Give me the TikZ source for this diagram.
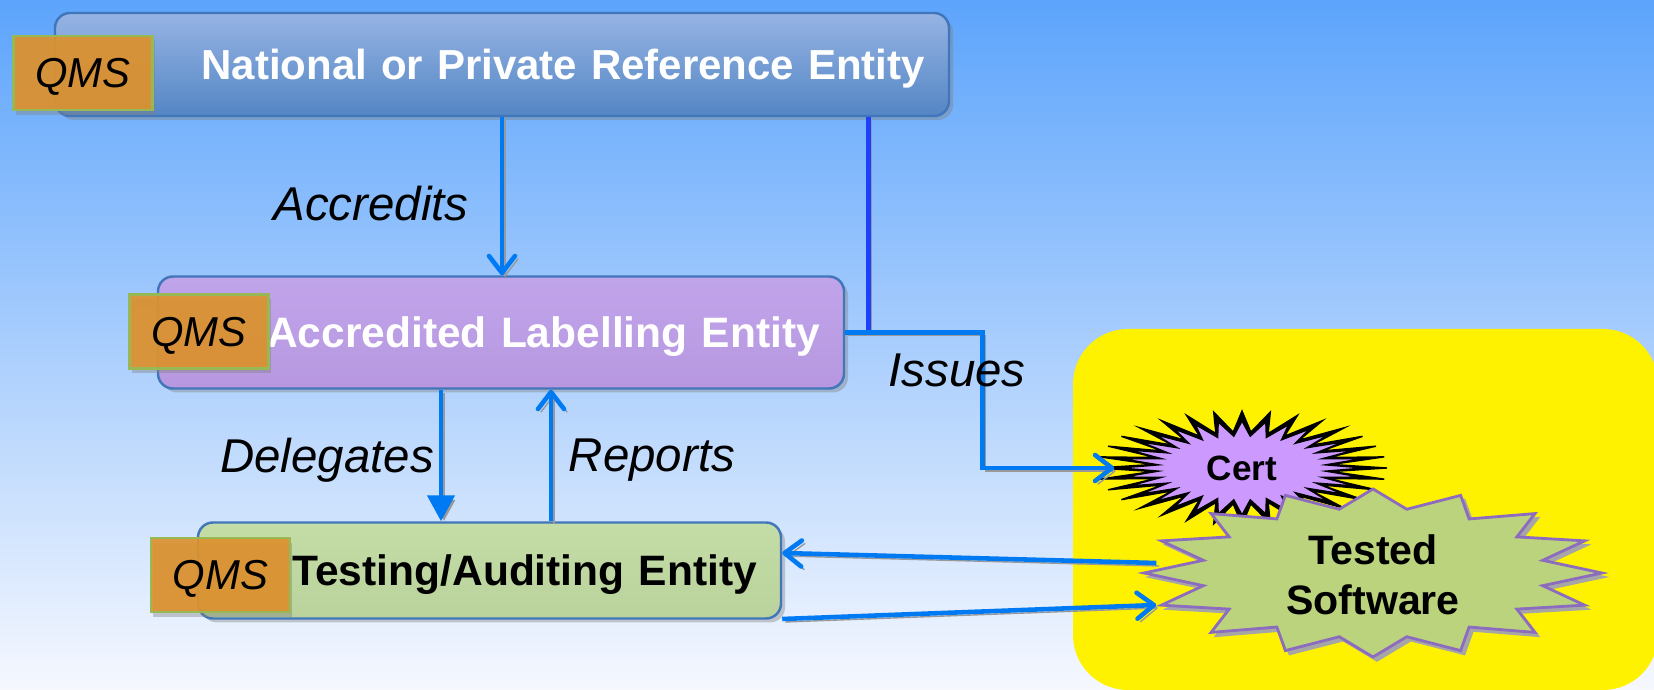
\documentclass[tikz,border=0pt]{standalone}
\usepackage{fontspec}
\setmainfont{Liberation Sans}
\usetikzlibrary{arrows.meta,shadows}
\definecolor{bgtop}{RGB}{92,164,252}
\definecolor{bgbot}{RGB}{246,248,254}
\definecolor{nattop}{RGB}{150,180,228}
\definecolor{natbot}{RGB}{84,134,196}
\definecolor{boxedge}{RGB}{66,118,186}
\definecolor{acctop}{RGB}{192,164,234}
\definecolor{accbot}{RGB}{183,152,224}
\definecolor{testtop}{RGB}{196,220,166}
\definecolor{testbot}{RGB}{186,210,156}
\definecolor{qmsfill}{RGB}{221,146,46}
\definecolor{qmsedge}{RGB}{150,185,85}
\definecolor{certfill}{RGB}{204,153,255}
\definecolor{softfill}{RGB}{188,211,125}
\definecolor{softedge}{RGB}{140,108,190}
\definecolor{flow}{RGB}{0,122,242}
\definecolor{feed}{RGB}{28,64,255}
\def\spiky[#1](#2)(#3:#4:#5:#6:#7){\draw[#1, shift={(#2)}] (0:#4 and #5) \foreach \k [evaluate=\k as \ain using (\k-0.5)*360/#3, evaluate=\k as \aout using \k*360/#3] in {1,...,#3}{ -- (\ain:#6 and #7) -- (\aout:#4 and #5)} -- cycle;}

\begin{document}
\begin{tikzpicture}[
	entity/.style={rounded corners=0.15cm, draw=boxedge, line width=0.7pt, inner xsep=0.24cm, inner ysep=0pt, text depth=0pt, align=right, font=\fontsize{12.1}{14}\selectfont\bfseries, drop shadow={shadow xshift=0.04cm, shadow yshift=-0.04cm, opacity=0.4}},
	qms/.style={fill=qmsfill, fill opacity=0.92, text opacity=1, draw=qmsedge, line width=0.6pt, minimum width=1.39cm, minimum height=0.74cm, inner sep=0pt, text depth=0pt, font=\fontsize{11.9}{14}\selectfont\itshape, drop shadow={shadow xshift=0.02cm, shadow yshift=-0.05cm, opacity=0.4}},
	flowlabel/.style={font=\fontsize{13.5}{16}\selectfont\itshape},
	lshadow/.style={preaction={draw=black!40, transform canvas={xshift=0.3mm, yshift=-0.3mm}}},
	fshadow/.style={preaction={fill=black!35, draw=black!35, transform canvas={xshift=0.4mm, yshift=-0.4mm}}},
	flowline/.style={draw=flow, line width=1.3pt, lshadow},
	chevron/.style={flowline, -{Straight Barb[length=0.17cm, width=0.26cm, line cap=round, line join=round]}},
	wedge/.style={flowline, -{Triangle[length=0.26cm, width=0.27cm]}}
]
	%%%%% BACKGROUND %%%%%
	\useasboundingbox (0,0) rectangle (16.54,6.90);
	\shade[top color=bgtop, bottom color=bgbot] (0,0) rectangle (16.54,6.90);
	\fill[yellow, rounded corners=0.55cm] (10.73,0) rectangle (16.58,3.61);
	
	%%%%% ENTITIES %%%%%
	\node[entity, top color=nattop, bottom color=natbot, text=white, text width=8.46cm, minimum height=1.03cm, font=\fontsize{11.95}{14}\selectfont\bfseries] (nat) at (5.02,6.255) {National or Private Reference Entity};
	\node[entity, top color=acctop, bottom color=accbot, text=white, text width=6.38cm, minimum height=1.12cm] (acc) at (5.01,3.575) {Accredited Labelling Entity};
	\node[entity, top color=testtop, bottom color=testbot, text=black, text width=5.35cm, minimum height=0.96cm] (test) at (4.895,1.195) {Testing/Auditing Entity};
	
	\node[qms] (natqms) at (0.83,6.17) {QMS};
	\node[qms] (accqms) at (1.99,3.585) {QMS};
	\node[qms] (testqms) at (2.205,1.15) {QMS};
	
	%%%%% STARS %%%%%
	\spiky[fill=black](12.42,2.22)(32:1.45:0.57:0.90:0.36)
	\spiky[fill=certfill](12.42,2.22)(32:1.22:0.47:0.84:0.32)
	\node[font=\fontsize{10}{12}\selectfont\bfseries, minimum width=2.54cm, inner sep=0pt] (cert) at (12.42,2.22) {Cert};
	
	\spiky[fill=softfill, draw=softedge, line width=0.8pt, fshadow](13.73,1.17)(16:2.29:0.84:1.73:0.65)
	\node[font=\fontsize{11.7}{14.2}\selectfont\bfseries, align=center, minimum width=4.32cm, inner sep=0pt] (soft) at (13.73,1.15) {Tested\\Software};
	
	%%%%% ARROWS %%%%%
	\coordinate (tap) at ([xshift=0.23cm]acc.east);
	\coordinate (dlg) at ([xshift=-0.60cm]acc.south);
	\coordinate (rpt) at ([xshift=0.50cm]acc.south);
	
	\draw[chevron] (nat.south) -- (nat.south |- acc.north);
	\draw[flowline, draw=feed] (tap |- nat.south) -- (tap);
	\draw[chevron] (acc.east) -- ++(1.37,0) |- (cert.west);
	\draw[wedge] (dlg) -- (dlg |- test.north);
	\draw[chevron] (rpt |- test.north) -- (rpt);
	\draw[chevron] ([yshift=0.12cm]soft.west) -- ([yshift=0.175cm]test.east);
	\draw[chevron] ([yshift=-0.485cm]test.east) -- ([yshift=-0.30cm]soft.west);
	
	%%%%% LABELS %%%%%
	\node[flowlabel] (accredits) at (3.71,4.86) {Accredits};
	\node[flowlabel] (delegates) at (3.27,2.30) {Delegates};
	\node[flowlabel] (reports) at (6.52,2.30) {Reports};
	\node[flowlabel] (issues) at (9.57,3.20) {Issues};
\end{tikzpicture}
\end{document}
